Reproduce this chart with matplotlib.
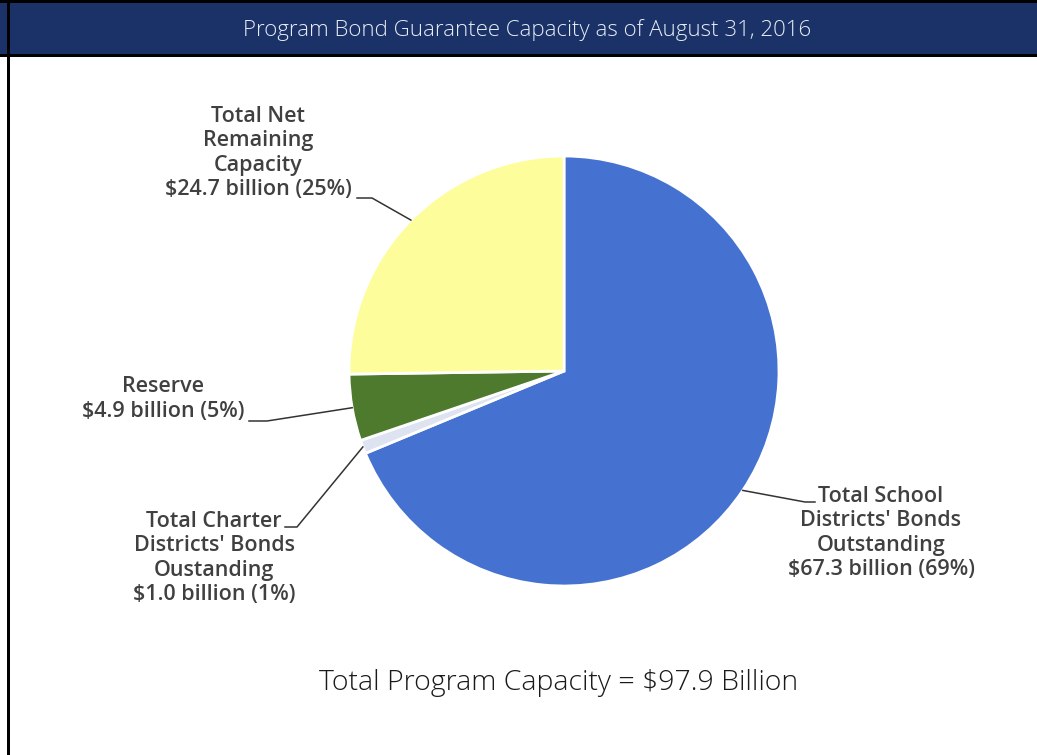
import matplotlib
matplotlib.use("Agg")
import matplotlib.pyplot as plt
import matplotlib.patches as mpatches
import numpy as np

W, H = 1037, 755

# data
categories = ["Total School\nDistricts' Bonds\nOutstanding",
              "Total Charter\nDistricts' Bonds\nOustanding",
              "Reserve",
              "Total Net\nRemaining\nCapacity"]
values = [67.3, 1.0, 4.9, 24.7]        # $ billion
percents = [69, 1, 5, 25]
colors = ["#4571d1", "#dde3f1", "#4e7a2e", "#fdfd9b"]
title = "Program Bond Guarantee Capacity as of August 31, 2016"
total_text = "Total Program Capacity = $97.9 Billion"


def Y(y):
    # pixel row (from top) -> axes coordinate
    return H - y


def main():
    fig = plt.figure(figsize=(W / 100, H / 100), dpi=100)
    ax = fig.add_axes([0, 0, 1, 1])
    ax.set_xlim(0, W)
    ax.set_ylim(0, H)
    ax.axis("off")

    # header band
    ax.add_patch(mpatches.Rectangle((0, Y(57)), W, 57, facecolor="black", lw=0))
    ax.add_patch(mpatches.Rectangle((0, Y(54)), W, 51, facecolor="#1b3268", lw=0))
    ax.add_patch(mpatches.Rectangle((7, 0), 2.5, H, facecolor="black", lw=0))
    ax.text(527, Y(30), title, color="#e8ecf4", fontsize=16, family="Open Sans",
            fontweight="light", ha="center", va="center")

    cx, cy, r = 564, Y(371), 215
    wedges, _ = ax.pie(values, colors=colors, startangle=90, counterclock=False,
                       center=(cx, cy), radius=r, frame=True,
                       wedgeprops=dict(edgecolor="white", linewidth=2))
    ax.set_xlim(0, W)
    ax.set_ylim(0, H)
    ax.set_aspect("equal")
    ax.axis("off")

    # label positions: text anchor, leader knee, leader end side
    label_specs = [
        dict(xy=(881, Y(533)), knee=(805, Y(502)), end=(815, Y(502))),
        dict(xy=(214, Y(558)), knee=(297, Y(527)), end=(285, Y(527))),
        dict(xy=(163, Y(399)), knee=(267, Y(421)), end=(249, Y(421))),
        dict(xy=(258, Y(153)), knee=(372, Y(198)), end=(357, Y(198))),
    ]

    for w, cat, v, p, spec in zip(wedges, categories, values, percents, label_specs):
        mid = np.deg2rad((w.theta1 + w.theta2) / 2)
        ex, ey = cx + r * np.cos(mid), cy + r * np.sin(mid)
        kx, ky = spec["knee"]
        sx, sy = spec["end"]
        ax.plot([ex, kx, sx], [ey, ky, sy], color="#333333", lw=1.1)
        ax.text(spec["xy"][0], spec["xy"][1], f"{cat}\n${v:.1f} billion ({p}%)",
                ha="center", va="center", color="#404040", fontsize=15.5,
                family="Open Sans", fontweight="semibold", linespacing=1.22)

    ax.text(559, Y(683), total_text, ha="center", va="center", color="#1a1a1a",
            fontsize=20.5, family="Open Sans", fontweight="light")

    fig.savefig("out.png", dpi=100, facecolor="white")


if __name__ == "__main__":
    main()
